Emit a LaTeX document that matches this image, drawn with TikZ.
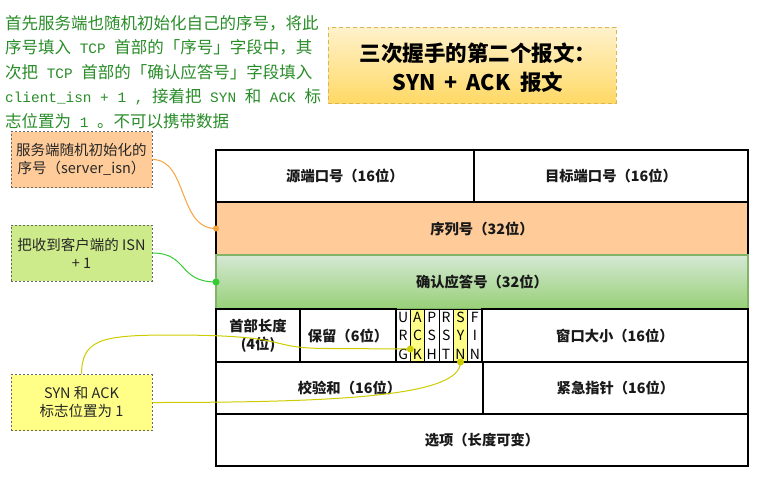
\documentclass[tikz,border=0pt]{standalone}
\usepackage{fontspec}
\newfontfamily\cjk{Noto Sans CJK SC}
\newfontfamily\gmono{Liberation Mono}
\definecolor{gtxt}{RGB}{40,140,40}
\definecolor{orfill}{HTML}{FFCC99}
\definecolor{grfill}{HTML}{CDEB8B}
\definecolor{yefill}{HTML}{FFFF88}
\definecolor{orline}{HTML}{F5A33C}
\definecolor{grline}{HTML}{33CC33}
\definecolor{yeline}{HTML}{CCCC00}
\definecolor{rowgtop}{HTML}{D5E8D4}
\definecolor{rowgbot}{HTML}{97D077}
\definecolor{rowgline}{HTML}{82B366}
\definecolor{titop}{HTML}{FFF2CC}
\definecolor{tibot}{HTML}{FFD966}
\definecolor{tiline}{HTML}{D6B656}
\newcommand\mlat[1]{{\gmono\fontsize{14.4}{20}\selectfont #1}}
\begin{document}
\begin{tikzpicture}[x=1pt,y=-1pt,
  cell/.style={draw=black, line width=1.2pt, inner sep=0pt, outer sep=0pt, align=center,
    font=\cjk\bfseries\fontsize{14.3}{18}\selectfont, text=black!90},
  flagcell/.style={draw=black, line width=0.9pt, inner sep=0pt, outer sep=0pt, align=center,
    minimum width=14.33pt, minimum height=53pt, font=\cjk\fontsize{14}{18.5}\selectfont},
  note/.style={draw=black!60, dashed, dash pattern=on 2pt off 2pt, line width=0.9pt,
    minimum width=141pt, minimum height=56pt, inner sep=0pt, align=center,
    font=\cjk\fontsize{14.5}{18}\selectfont, text=black!85},
  gline/.style={anchor=base west, inner sep=0pt, text=gtxt, font=\cjk\fontsize{16.5}{20}\selectfont},
  conn/.style={line width=1pt}
]
\useasboundingbox (0,0) rectangle (760,480);

% title box first so that nothing is hidden by it
\node[draw=tiline, dashed, dash pattern=on 4pt off 3pt, line width=1pt, top color=titop, bottom color=tibot,
  minimum width=288pt, minimum height=76pt, inner sep=0pt] (titlebox) at (472,65) {};
\node[align=center, font=\cjk\bfseries\fontsize{21.5}{29}\selectfont, inner sep=0pt] (title) at (478,67.5)
  {三次握手的第二个报文：\\SYN\hspace{9pt}+\hspace{9pt}ACK\hspace{5pt} 报文};

% top-left green explanation
\node[gline] (l1) at (5,29) {首先服务端也随机初始化自己的序号，将此};
\node[gline] (l2) at (5,53.5) {序号填入\mlat{ TCP }首部的「序号」字段中，其};
\node[gline] (l3) at (5,78) {次把\mlat{ TCP }首部的「确认应答号」字段填入};
\node[gline] (l4) at (5,102.5) {\mlat{client\_isn + 1 , }接着把\mlat{ SYN }和\mlat{ ACK }标};
\node[gline] (l5) at (5,127) {志位置为\mlat{ 1 }。不可以携带数据};

% table
\node[cell, minimum width=258pt, minimum height=52pt] (src) at (345,176) {源端口号（16位）};
\node[cell, minimum width=274pt, minimum height=52pt] (dst) at (611,176) {目标端口号（16位）};
\node[cell, fill=orfill, minimum width=532pt, minimum height=53pt] (seq) at (482,228.5) {序列号（32位）};
\node[cell, draw=rowgline, top color=rowgtop, bottom color=rowgbot, minimum width=532pt, minimum height=54pt] (ackn) at (482,282) {确认应答号（32位）};
\node[cell, minimum width=84pt, minimum height=53pt] (hl) at (258,335.5) {首部长度\\(4位)};
\node[cell, minimum width=96pt, minimum height=53pt] (res) at (348,335.5) {保留（6位）};
\node[flagcell] (urg) at (403.17,335.5) {U\\R\\G};
\node[flagcell, fill=yefill] (ack) at (417.5,335.5) {A\\C\\K};
\node[flagcell] (psh) at (431.83,335.5) {P\\S\\H};
\node[flagcell] (rst) at (446.17,335.5) {R\\S\\T};
\node[flagcell, fill=yefill] (syn) at (460.5,335.5) {S\\Y\\N};
\node[flagcell] (fin) at (474.83,335.5) {F\\I\\N};
\node[cell, minimum width=266pt, minimum height=53pt] (win) at (615,335.5) {窗口大小（16位）};
\node[cell, minimum width=267pt, minimum height=52pt] (chk) at (349.5,388) {校验和（16位）};
\node[cell, minimum width=265pt, minimum height=52pt] (urp) at (615.5,388) {紧急指针（16位）};
\node[cell, minimum width=532pt, minimum height=52pt] (opt) at (482,440) {选项（长度可变）};

% notes
\node[note, fill=orfill] (ob) at (81.5,159.5) {服务端随机初始化的\\序号（server\_isn）};
\node[note, fill=grfill] (gb) at (81.5,253) {把收到客户端的 ISN\\+ 1};
\node[note, fill=yefill] (yb) at (81.5,402.5) {SYN 和 ACK\\标志位置为 1};

% connectors
\coordinate (ackdot) at (410.3,349);
\draw[conn, orline] (ob.east) .. controls (188,159.5) and (178,229) .. (seq.west);
\fill[orline] (seq.west) circle (3pt);
\draw[conn, grline] (gb.east) .. controls (188,253) and (178,282) .. (ackn.west);
\fill[grline] (ackn.west) circle (3.5pt);
\draw[conn, yeline] (yb.north) .. controls (82,340) and (100,335) .. (170,335)
  .. controls (300,335) and (260,348.5) .. (330,348.5) -- (ackdot);
\fill[yeline] (ackdot) circle (3.5pt);
\draw[conn, yeline] (yb.east) .. controls (350,402.5) and (460.5,395) .. (syn.south);
\fill[yeline] (syn.south) circle (3.5pt);
\end{tikzpicture}
\end{document}
